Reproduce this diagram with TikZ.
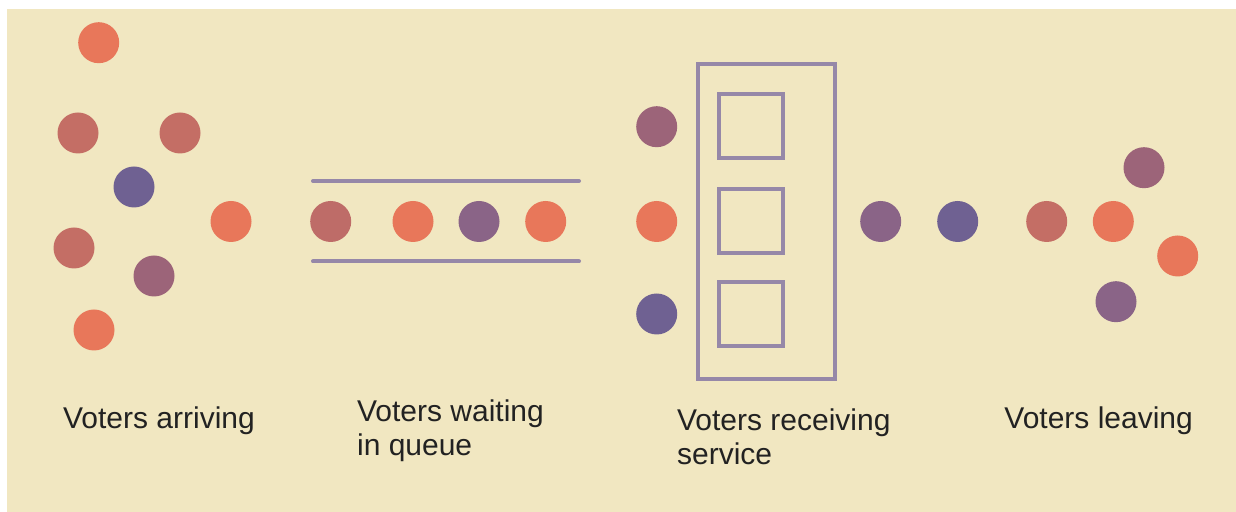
\documentclass[tikz,border=0pt]{standalone}
\usepackage{fontspec}
\setmainfont{Liberation Sans}
\usepackage{tikz}
\usetikzlibrary{positioning}

\definecolor{paper}{HTML}{F1E7C1}
\definecolor{vorange}{HTML}{E8775A}
\definecolor{vred}{HTML}{C46E65}
\definecolor{vmauve}{HTML}{9C6479}
\definecolor{vplum}{HTML}{8A6487}
\definecolor{vviolet}{HTML}{6F6192}
\definecolor{vline}{HTML}{9688A8}
\definecolor{vtext}{HTML}{222222}

\tikzset{
	voter/.style={circle, inner sep=0pt, minimum size=20.5pt},
	wall/.style={draw=vline, line width=2pt, line cap=round},
	booth/.style={draw=vline, line width=2pt, inner sep=0pt},
	caption/.style={anchor=north west, inner sep=0pt, align=left, text=vtext,
		font=\fontsize{15pt}{17pt}\selectfont}
}

\begin{document}
\begin{tikzpicture}[x=0.5pt, y=-0.5pt]
	
	% NOTE: y runs downwards here, so the numbers are read straight off the picture
	\useasboundingbox (0,0) rectangle (1236,512);
	\fill[paper] (7,9) rectangle (1236,512);
	
	%%%%%%%%%%%%%%%%%%%%%%%%%%%%%%%%%%%%%%%%%%%%%%%%%%%%%%%%%%%%%%
	% Voters arriving
	\node[voter, fill=vorange] (A1) at (98.7,42.7) {};
	\node[voter, fill=vred]    (A2) at (78,133) {};
	\node[voter, fill=vred]    (A3) at (180,133) {};
	\node[voter, fill=vviolet] (A4) at (134,187) {};
	\node[voter, fill=vorange] (A5) at (231,221.5) {};
	\node[voter, fill=vred]    (A6) at (74,248) {};
	\node[voter, fill=vmauve]  (A7) at (154,276) {};
	\node[voter, fill=vorange] (A8) at (94,330) {};
	
	%%%%%%%%%%%%%%%%%%%%%%%%%%%%%%%%%%%%%%%%%%%%%%%%%%%%%%%%%%%%%%
	% Queue: two walls with the waiting voters between them
	\coordinate (QTL) at (313,181);
	\coordinate (QTR) at (579,181);
	\coordinate (QBL) at (313,261.5);
	\coordinate (QBR) at (579,261.5);
	\draw[wall] (QTL) -- (QTR);
	\draw[wall] (QBL) -- (QBR);
	
	\node[voter, fill=vred!85!vmauve] (Q1) at (330.7,221.5) {};
	\node[voter, fill=vorange]        (Q2) at (413,221.5) {};
	\node[voter, fill=vplum]          (Q3) at (479,221.5) {};
	\node[voter, fill=vorange]        (Q4) at (545.7,221.5) {};
	
	%%%%%%%%%%%%%%%%%%%%%%%%%%%%%%%%%%%%%%%%%%%%%%%%%%%%%%%%%%%%%%
	% Polling station with three booths
	\node[booth, minimum width=68.5pt, minimum height=157.5pt] (Station) at (766.5,221.5) {};
	\node[booth, minimum size=32pt] (B1) at (751,126.3) {};
	\node[booth, minimum size=32pt] (B2) at (751,221.3) {};
	\node[booth, minimum size=32pt] (B3) at (751,313.7) {};
	
	\node[voter, fill=vmauve]  (S1) at (656.7,126.7) {};
	\node[voter, fill=vorange] (S2) at (656.7,221.5) {};
	\node[voter, fill=vviolet] (S3) at (656.7,314) {};
	
	%%%%%%%%%%%%%%%%%%%%%%%%%%%%%%%%%%%%%%%%%%%%%%%%%%%%%%%%%%%%%%
	% Voters leaving
	\node[voter, fill=vplum]   (L1) at (880.7,221.5) {};
	\node[voter, fill=vviolet] (L2) at (957.7,221.5) {};
	\node[voter, fill=vred]    (L3) at (1046.7,221.5) {};
	\node[voter, fill=vorange] (L4) at (1113.3,221.5) {};
	\node[voter, fill=vmauve]  (L5) at (1144,167.7) {};
	\node[voter, fill=vorange] (L6) at (1177.7,256) {};
	\node[voter, fill=vplum]   (L7) at (1116,301.7) {};
	
	%%%%%%%%%%%%%%%%%%%%%%%%%%%%%%%%%%%%%%%%%%%%%%%%%%%%%%%%%%%%%%
	% Captions
	\node[caption] (TArrive)  at (62.7,406.5)  {Voters arriving};
	\node[caption] (TQueue)   at (356.7,399)   {Voters waiting\\in queue};
	\node[caption] (TService) at (676.7,408.3) {Voters receiving\\service};
	\node[caption] (TLeave)   at (1004,406.5)  {Voters leaving};
	
\end{tikzpicture}
\end{document}
